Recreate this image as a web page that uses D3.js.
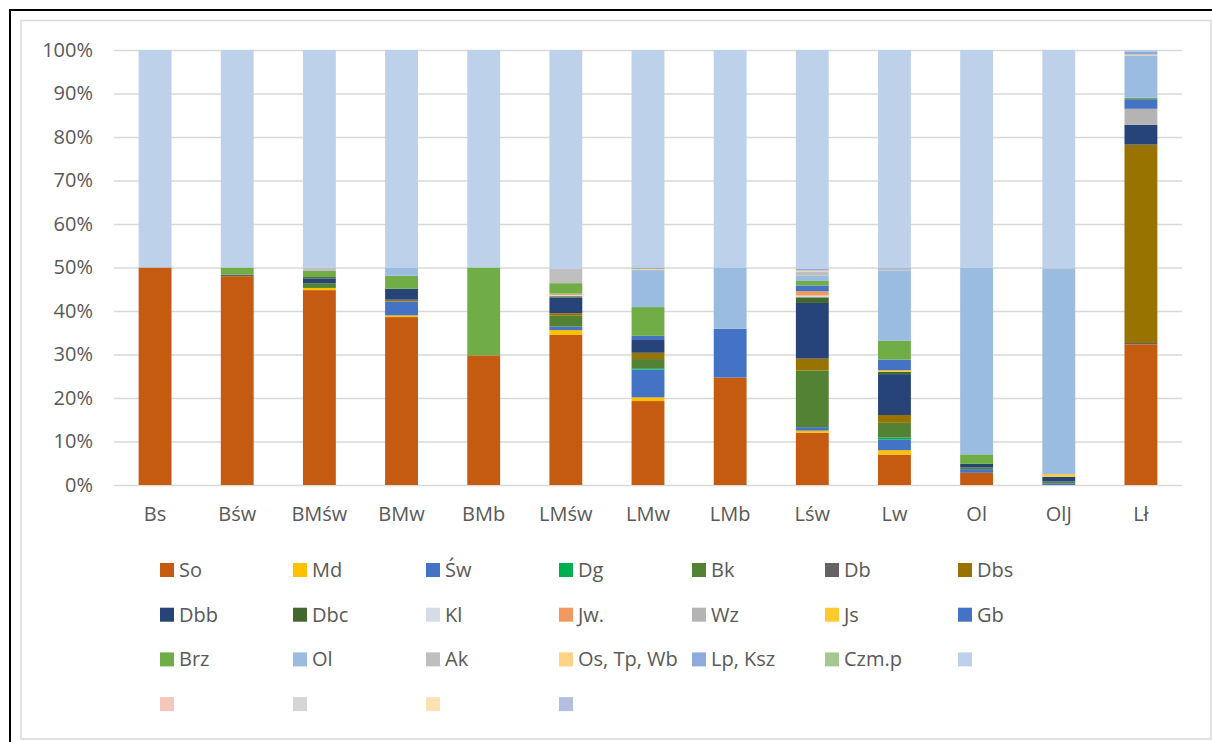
<!DOCTYPE html>
<html>
<head>
<meta charset="utf-8">
<script src="https://cdn.jsdelivr.net/npm/d3@7"></script>
<style>
  html, body { margin: 0; padding: 0; background: #ffffff; }
  svg { display: block; }
  text { font-family: "Open Sans", Lato, sans-serif; fill: #595959; }
</style>
</head>
<body>
<svg id="chart" width="1212" height="742"></svg>
<script>
// ---- Data ----
const categories = ["Bs", "Bśw", "BMśw", "BMw", "BMb", "LMśw", "LMw", "LMb", "Lśw", "Lw", "Ol", "OlJ", "Lł"];

const seriesNames = ["So", "Md", "Św", "Dg", "Bk", "Db", "Dbs", "Dbb", "Dbc", "Kl", "Jw.", "Wz", "Js", "Gb",
  "Brz", "Ol", "Ak", "Os, Tp, Wb", "Lp, Ksz", "Czm.p", "", "", "", "", ""];

const seriesColors = ["#C55A11", "#FFC000", "#4472C4", "#00B050", "#548235", "#636363", "#997300", "#264478",
  "#43682B", "#D6DCE5", "#F19A5F", "#B4B4B4", "#FFCA2F", "#4472C4", "#70AD47", "#9BBCE1", "#BFBFBF",
  "#FFD284", "#8FAADC", "#A5C893", "#BDD1EA", "#F5C7BA", "#D5D5D5", "#FFE0B3", "#B4BEE0"];

//                Bs    Bśw   BMśw  BMw   BMb   LMśw  LMw   LMb   Lśw   Lw    Ol    OlJ   Lł
const So     = [50.0, 48.0, 44.8, 38.6, 29.8, 34.5, 19.3, 24.7, 12.0,  7.0,  2.8,  0.0, 32.2];
const Md     = [ 0.0,  0.0,  0.5,  0.4,  0.0,  1.1,  0.85, 0.0,  0.5,  1.0,  0.0,  0.0,  0.0];
const Sw     = [ 0.0,  0.0,  0.0,  3.2,  0.0,  0.8,  6.4, 11.2,  0.8,  2.5,  0.85, 0.4,  0.0];
const Dg     = [ 0.0,  0.0,  0.0,  0.0,  0.0,  0.0,  0.3,  0.0,  0.0,  0.45, 0.0,  0.0,  0.0];
const Bk     = [ 0.0,  0.0,  1.1,  0.0,  0.0,  2.5,  2.1,  0.0, 13.0,  3.35, 0.45, 0.4,  0.0];
const Db     = [ 0.0,  0.4,  0.0,  0.0,  0.0,  0.0,  0.0,  0.0,  0.0,  0.0,  0.0,  0.0,  0.3];
const Dbs    = [ 0.0,  0.0,  0.0,  0.4,  0.0,  0.6,  1.45, 0.0,  2.75, 1.8,  0.0,  0.0, 45.4];
const Dbb    = [ 0.0,  0.0,  1.1,  2.5,  0.0,  3.6,  3.1,  0.0, 12.8,  9.4,  0.75, 1.1,  4.5];
const Dbc    = [ 0.0,  0.0,  0.3,  0.0,  0.0,  0.3,  0.0,  0.0,  1.3,  0.5,  0.0,  0.0,  0.0];
const Kl     = [ 0.0,  0.0,  0.0,  0.0,  0.0,  0.3,  0.0,  0.0,  0.4,  0.0,  0.0,  0.0,  0.0];
const Jw     = [ 0.0,  0.0,  0.0,  0.0,  0.0,  0.3,  0.0,  0.0,  1.0,  0.0,  0.0,  0.0,  0.0];
const Wz     = [ 0.0,  0.0,  0.0,  0.0,  0.0,  0.0,  0.0,  0.0,  0.0,  0.0,  0.0,  0.0,  3.7];
const Js     = [ 0.0,  0.0,  0.0,  0.0,  0.0,  0.0,  0.0,  0.0,  0.0,  0.4,  0.0,  0.6,  0.0];
const Gb     = [ 0.0,  0.0,  0.0,  0.0,  0.0,  0.0,  0.8,  0.0,  1.3,  2.45, 0.0,  0.0,  2.2];
const Brz    = [ 0.0,  1.6,  1.4,  3.0, 20.2,  2.4,  6.6,  0.0,  1.05, 4.3,  2.2,  0.0,  0.3];
const Ol     = [ 0.0,  0.0,  0.0,  1.9,  0.0,  0.0,  8.5, 14.1,  1.2, 16.2, 42.9, 47.2,  9.7];
const Ak     = [ 0.0,  0.0,  0.8,  0.0,  0.0,  3.3,  0.0,  0.0,  1.0,  0.4,  0.0,  0.2,  0.0];
const OsTpWb = [ 0.0,  0.0,  0.0,  0.0,  0.0,  0.0,  0.3,  0.0,  0.2,  0.0,  0.0,  0.0,  0.2];
const LpKsz  = [ 0.0,  0.0,  0.0,  0.0,  0.0,  0.0,  0.3,  0.0,  0.4,  0.2,  0.0,  0.0,  0.75];
const CzmP   = [ 0.0,  0.0,  0.0,  0.0,  0.0,  0.0,  0.0,  0.0,  0.0,  0.0,  0.0,  0.0,  0.0];
const S21    = [50.0, 50.0, 50.0, 50.0, 50.0, 50.3, 50.0, 50.0, 50.3, 50.1, 50.0, 50.2,  0.3];
const S22    = [ 0.0,  0.0,  0.0,  0.0,  0.0,  0.0,  0.0,  0.0,  0.0,  0.0,  0.0,  0.0,  0.0];
const S23    = [ 0.0,  0.0,  0.0,  0.0,  0.0,  0.0,  0.0,  0.0,  0.0,  0.0,  0.0,  0.0,  0.0];
const S24    = [ 0.0,  0.0,  0.0,  0.0,  0.0,  0.0,  0.0,  0.0,  0.0,  0.0,  0.0,  0.0,  0.0];
const S25    = [ 0.0,  0.0,  0.0,  0.0,  0.0,  0.0,  0.0,  0.0,  0.0,  0.0,  0.0,  0.0,  0.0];

const seriesValues = [So, Md, Sw, Dg, Bk, Db, Dbs, Dbb, Dbc, Kl, Jw, Wz, Js, Gb, Brz, Ol, Ak,
  OsTpWb, LpKsz, CzmP, S21, S22, S23, S24, S25];

const yTicks = [0, 0.1, 0.2, 0.3, 0.4, 0.5, 0.6, 0.7, 0.8, 0.9, 1.0];

// ---- Build table ----
const keys = seriesValues.map((_, i) => i);
const table = categories.map((c, ci) => {
  const row = { cat: c };
  keys.forEach(k => { row[k] = seriesValues[k][ci]; });
  return row;
});

const stack = d3.stack().keys(keys).offset(d3.stackOffsetExpand);
const stacked = stack(table);

// ---- Layout ----
const svg = d3.select("#chart");
const plot = { left: 114, right: 1182, top: 50, bottom: 485 };
const FONT = "'Open Sans', Lato, sans-serif";
const FS = 20;

// borders
svg.append("rect").attr("x", 21).attr("y", 20.5).attr("width", 1190).attr("height", 718.5)
  .attr("fill", "#ffffff").attr("stroke", "#D9D9D9").attr("stroke-width", 1.5);
svg.append("path").attr("d", "M10,742 L10,10 L1212,10")
  .attr("fill", "none").attr("stroke", "#000000").attr("stroke-width", 2);

const x = d3.scaleBand().domain(categories).range([plot.left, plot.right])
  .paddingInner(0.6).paddingOuter(0.3);
const y = d3.scaleLinear().domain([0, 1]).range([plot.bottom, plot.top]);

// gridlines + y axis
const yAxis = d3.axisLeft(y).tickValues(yTicks).tickFormat(d3.format(".0%"))
  .tickSize(-(plot.right - plot.left)).tickPadding(21);
const gy = svg.append("g").attr("transform", `translate(${plot.left},0)`).call(yAxis);
gy.select(".domain").remove();
gy.selectAll(".tick line").attr("stroke", "#D9D9D9").attr("stroke-width", 1.5);
gy.selectAll(".tick text").attr("font-size", FS).attr("fill", "#595959")
  .style("font-family", FONT);

// bars
const layers = svg.append("g").selectAll("g").data(stacked).join("g")
  .attr("fill", d => seriesColors[d.key]);
layers.selectAll("rect").data(d => d).join("rect")
  .attr("x", d => x(d.data.cat))
  .attr("width", x.bandwidth())
  .attr("y", d => y(d[1]))
  .attr("height", d => Math.max(0, y(d[0]) - y(d[1])));

// x axis labels
const xAxis = d3.axisBottom(x).tickSize(0).tickPadding(22);
const gx = svg.append("g").attr("transform", `translate(0,${plot.bottom})`).call(xAxis);
gx.select(".domain").remove();
gx.selectAll(".tick text").attr("font-size", FS).attr("fill", "#595959")
  .style("font-family", FONT);

// legend
const legendCols = 7;
const legX0 = 160, legStepX = 133, legY0 = 570, legStepY = 44.7;
const leg = svg.append("g").selectAll("g").data(seriesNames).join("g")
  .attr("transform", (d, i) => `translate(${legX0 + (i % legendCols) * legStepX},${legY0 + Math.floor(i / legendCols) * legStepY})`);
leg.append("rect").attr("x", 0).attr("y", -7).attr("width", 14).attr("height", 14)
  .attr("fill", (d, i) => seriesColors[i]);
leg.append("text").attr("x", 19).attr("y", 0).attr("dy", "0.35em")
  .attr("font-size", FS).style("font-family", FONT).text(d => d);
</script>
</body>
</html>
